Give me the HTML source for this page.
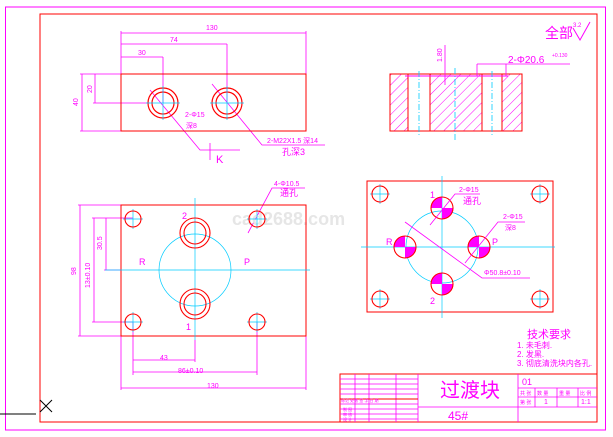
<!DOCTYPE html>
<html><head><meta charset="utf-8"><style>body{margin:0;background:#fff}svg{display:block}text{font-family:"Liberation Sans","Noto Sans CJK SC",sans-serif}</style></head><body>
<svg width="613" height="437" viewBox="0 0 613 437" xmlns="http://www.w3.org/2000/svg">
<rect x="5.5" y="7" width="600" height="423" fill="none" stroke="#f0f" stroke-width="1"/>
<rect x="40" y="14" width="557" height="408" fill="none" stroke="#f00" stroke-width="1"/>
<line x1="0" y1="414" x2="36" y2="414" stroke="#000"/>
<path d="M40 400 L52 412 M52 400 L40 412" stroke="#000"/>
<text x="545" y="38" font-size="14" fill="#f0f">全部</text>
<path d="M573 28 L580 40 L590 22" fill="none" stroke="#f0f"/>
<text x="573" y="27" font-size="6" fill="#f0f">3.2</text>

<!-- top view -->
<g stroke="#f0f" stroke-width="0.8" fill="none">
<path d="M121 31 V74 M306 31 V74 M121 33 H306 M121 44 H227 M227 44 V103 M121 57 H163 M163 57 V103"/>
<path d="M80 74 H121 M80 131 H121 M82 74 V131 M93 103 H150 M95 74 V103"/>
<path d="M150 90 L200 150 H240 M212 84 L262 145 H325"/>
<path d="M210 143 V160"/>
</g>
<g fill="#f0f" font-size="7"><text x="206" y="30">130</text><text x="170" y="42">74</text><text x="138" y="55">30</text>
<text x="185" y="117">2-Φ15</text><text x="186" y="128">深8</text><text x="267" y="143">2-M22X1.5 深14</text><text x="282" y="155" font-size="9">孔深3</text>
<text x="78" y="106" transform="rotate(-90 78 106)">40</text><text x="92" y="93" transform="rotate(-90 92 93)">20</text>
<text x="216" y="163" font-size="11">K</text></g>
<rect x="121" y="74" width="185" height="57" fill="none" stroke="#f00"/>
<g stroke="#f00" fill="none" stroke-width="1.2"><circle cx="163" cy="103" r="15"/><circle cx="163" cy="103" r="11"/><circle cx="227" cy="103" r="15"/><circle cx="227" cy="103" r="11"/></g>
<g stroke="#0cf" stroke-width="0.7"><path d="M146 103 H180 M163 86 V120 M210 103 H244 M227 86 V120"/></g>

<!-- section view -->
<defs><pattern id="h" width="7" height="7" patternUnits="userSpaceOnUse" patternTransform="rotate(45)"><line x1="0" y1="0" x2="0" y2="7" stroke="#f0f" stroke-width="1"/></pattern></defs>
<g stroke="#f00" fill="url(#h)"><rect x="390" y="74" width="18" height="57"/><rect x="430" y="74" width="52" height="57"/><rect x="502" y="74" width="20" height="57"/></g>
<rect x="390" y="74" width="132" height="57" fill="none" stroke="#f00"/>
<line x1="405" y1="76" x2="508" y2="76" stroke="#f0f"/>
<g stroke="#0cf" stroke-dasharray="6 2 1 2" stroke-width="0.8"><path d="M419 71 V135 M455 68 V140 M492 71 V135"/></g>
<g stroke="#f0f" fill="none" stroke-width="0.8"><path d="M445 45 V85 M477 64 H570 M477 64 V76 M506 64 V76"/></g>
<g fill="#f0f"><text x="508" y="63" font-size="10">2-Φ20.6</text><text x="552" y="57" font-size="5">+0.130</text><text x="442" y="62" font-size="7" transform="rotate(-90 442 62)">1.80</text></g>

<!-- bottom-left view -->
<g stroke="#f0f" stroke-width="0.8" fill="none">
<path d="M78 205 H121 M78 336 H121 M80 205 V336 M92 218 H133 M92 322 H133 M94 218 V322 M104 218 H133 M104 270 H121 M106 218 V270"/>
<path d="M121 336 V390 M306 336 V390 M121 388 H306 M133 322 V375 M195 340 V362 M133 360 H195 M133 372 H257 M257 322 V375"/>
<path d="M248 233 L272 188 H305"/>
</g>
<g fill="#f0f" font-size="7"><text x="76" y="275" transform="rotate(-90 76 275)">98</text><text x="90" y="288" transform="rotate(-90 90 288)">13±0.10</text><text x="102" y="250" transform="rotate(-90 102 250)">30.5</text>
<text x="160" y="360">43</text><text x="178" y="373">86±0.10</text><text x="207" y="388">130</text><text x="274" y="186">4-Φ10.5</text><text x="280" y="196" font-size="9">通孔</text>
<text x="182" y="219" font-size="9">2</text><text x="186" y="330" font-size="9">1</text><text x="139" y="265" font-size="9">R</text><text x="244" y="265" font-size="9">P</text></g>
<text x="232" y="225" font-size="18" fill="#e6e6e6" font-weight="bold">cad2688.com</text>
<rect x="121" y="205" width="185" height="131" fill="none" stroke="#f00"/>
<g stroke="#0cf" stroke-width="0.7" fill="none"><circle cx="195" cy="270" r="36"/><path d="M105 270 H310 M195 198 V340 M123 219 H143 M133 209 V229 M247 219 H267 M257 209 V229 M123 322 H143 M133 312 V332 M247 322 H267 M257 312 V332"/></g>
<g stroke="#f00" fill="none" stroke-width="1.1"><circle cx="133" cy="219" r="8"/><circle cx="257" cy="219" r="8"/><circle cx="133" cy="322" r="8"/><circle cx="257" cy="322" r="8"/>
<circle cx="195" cy="233" r="15"/><circle cx="195" cy="233" r="11"/><circle cx="195" cy="304" r="15"/><circle cx="195" cy="304" r="11"/></g>

<!-- right view -->
<rect x="367" y="181" width="186" height="131" fill="none" stroke="#f00"/>
<g stroke="#0cf" stroke-width="0.7" fill="none"><circle cx="442" cy="247" r="36"/><path d="M361 247 H555 M442 176 V318 M370 194 H390 M380 184 V204 M530 194 H550 M540 184 V204 M370 299 H390 M380 289 V309 M530 299 H550 M540 289 V309"/></g>
<g fill="#f0f"><path d="M442 208 V197 A11 11 0 0 0 431 208 Z M442 208 H453 A11 11 0 0 1 442 219 Z"/><path d="M442 284 V273 A11 11 0 0 0 431 284 Z M442 284 H453 A11 11 0 0 1 442 295 Z"/><path d="M405 247 V236 A11 11 0 0 0 394 247 Z M405 247 V258 A11 11 0 0 0 416 247 Z"/><path d="M479 247 V236 A11 11 0 0 0 468 247 Z M479 247 V258 A11 11 0 0 0 490 247 Z"/></g>
<g stroke="#f00" fill="none" stroke-width="1.1"><circle cx="380" cy="194" r="8"/><circle cx="540" cy="194" r="8"/><circle cx="380" cy="299" r="8"/><circle cx="540" cy="299" r="8"/>
<circle cx="442" cy="208" r="11"/><circle cx="442" cy="284" r="11"/><circle cx="405" cy="247" r="11"/><circle cx="479" cy="247" r="11"/></g>
<g stroke="#f0f" stroke-width="0.8" fill="none"><path d="M430 225 L455 194 H480 M465 263 L498 222 H525 M405 222 L482 278 H530"/></g>
<g fill="#f0f" font-size="7"><text x="459" y="192">2-Φ15</text><text x="463" y="204" font-size="9">通孔</text><text x="503" y="219">2-Φ15</text><text x="505" y="230">深8</text><text x="484" y="275">Φ50.8±0.10</text>
<text x="430" y="198" font-size="9">1</text><text x="430" y="304" font-size="9">2</text><text x="386" y="245" font-size="9">R</text><text x="492" y="245" font-size="9">P</text></g>

<!-- notes -->
<g fill="#f0f"><text x="527" y="338" font-size="11">技术要求</text><text x="517" y="348" font-size="8">1. 未毛刺.</text><text x="517" y="357" font-size="8">2. 发黑.</text><text x="517" y="366" font-size="8">3. 彻底清洗块内各孔.</text></g>

<!-- title block -->
<rect x="340" y="374" width="257" height="48" fill="none" stroke="#f00"/>
<g stroke="#f0f" stroke-width="0.8"><path d="M340 379 H418 M340 384 H418 M340 389 H418 M340 394 H418 M340 404 H418 M340 409 H418 M340 414 H418 M340 419 H418 M355 374 V422 M369 374 V422 M396 374 V422 M418 374 V422 M518 374 V422 M418 407 H518 M518 388 H597 M518 397 H597 M518 407 H597 M535 388 V407 M557 388 V407 M578 388 V407"/></g>
<line x1="340" y1="399" x2="418" y2="399" stroke="#f00"/>
<g fill="#f0f"><text x="440" y="397" font-size="20">过渡块</text><text x="448" y="420" font-size="12">45#</text><text x="522" y="385" font-size="9">01</text>
<text x="520" y="395" font-size="5">共 张</text><text x="537" y="395" font-size="5">数 量</text><text x="559" y="395" font-size="5">重 量</text><text x="580" y="395" font-size="5">比 例</text><text x="520" y="404" font-size="5">第 张</text><text x="544" y="404" font-size="7">1</text><text x="581" y="404" font-size="7">1:1</text>
<text x="341" y="402" font-size="4">标记 处数 签 字 日 期</text><text x="343" y="411" font-size="4">制 图</text><text x="343" y="416" font-size="4">审 核</text><text x="343" y="421" font-size="4">设 计</text></g>
</svg>
</body></html>
